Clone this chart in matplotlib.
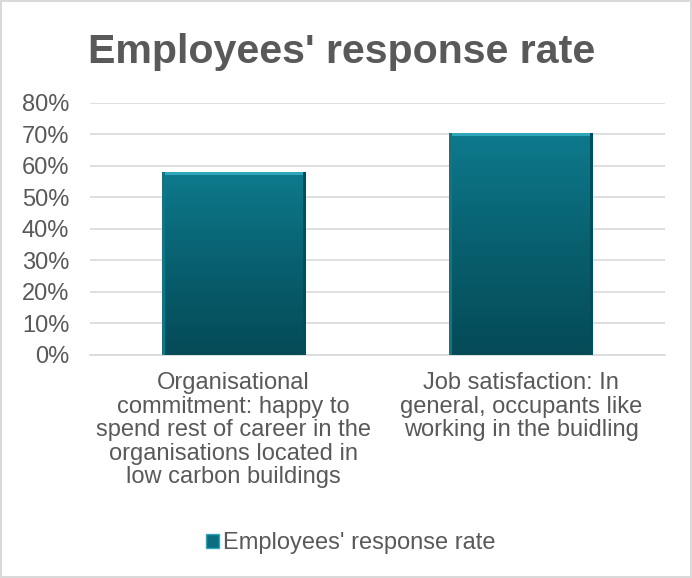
import numpy as np
import matplotlib.pyplot as plt
from matplotlib.colors import LinearSegmentedColormap
from matplotlib.patches import Rectangle

plt.rcParams['font.family'] = ['Liberation Sans', 'DejaVu Sans']

categories = ['Organisational\ncommitment: happy to\nspend rest of career in the\norganisations located in\nlow carbon buildings',
              'Job satisfaction: In\ngeneral, occupants like\nworking in the buidling']
rates = [0.58, 0.705]
series_name = "Employees' response rate"
yticks = [0.0, 0.1, 0.2, 0.3, 0.4, 0.5, 0.6, 0.7, 0.8]

grey = '#595959'
fig = plt.figure(figsize=(6.92, 5.78), dpi=100)
fig.patch.set_edgecolor('#d9d9d9')
fig.patch.set_linewidth(1.5)
ax = fig.add_axes([0.13, 0.386, 0.831, 0.436])

x = np.arange(len(categories))
bars = ax.bar(x, rates, width=0.5, color='#0b6e80', zorder=2, label=series_name)

# vertical shading inside each bar, lighter at the top, with a bevelled rim
cmap = LinearSegmentedColormap.from_list('teal', ['#054a57', '#08606f', '#0e7a8c'])
grad = np.linspace(0, 1, 256).reshape(-1, 1)
for b in bars:
    x0, w, h = b.get_x(), b.get_width(), b.get_height()
    im = ax.imshow(grad, cmap=cmap, aspect='auto', origin='lower',
                   extent=(x0, x0 + w, 0, h), zorder=3)
    im.set_clip_path(b)
    ax.add_patch(Rectangle((x0, h - 0.01), w, 0.01, color='#2fa6ba', zorder=4, lw=0))
    ax.add_patch(Rectangle((x0, 0), w * 0.02, h, color='#0c7788', zorder=4, lw=0))
    ax.add_patch(Rectangle((x0 + w * 0.98, 0), w * 0.02, h, color='#054b58', zorder=4, lw=0))

ax.set_xlim(-0.5, 1.5)
ax.set_ylim(0, 0.8)
ax.set_yticks(yticks)
ax.set_yticklabels([f'{int(round(t * 100))}%' for t in yticks])
ax.set_xticks(x)
ax.set_xticklabels(categories, linespacing=1.09, va='top')
ax.tick_params(axis='both', length=0, labelsize=17, labelcolor=grey)
ax.tick_params(axis='y', pad=15)
ax.tick_params(axis='x', pad=12.5)
ax.grid(axis='y', color='#d9d9d9', lw=1.2, zorder=0)
for s in ['top', 'right', 'left']:
    ax.spines[s].set_visible(False)
ax.spines['bottom'].set_color('#d9d9d9')
ax.spines['bottom'].set_linewidth(1.2)

fig.text(0.493, 0.91, series_name, ha='center', va='center', fontsize=29.6,
         fontweight='bold', color=grey)

fig.legend(handles=[Rectangle((0, 0), 1, 1, facecolor='#0b6e80', edgecolor='#2fa6ba')],
           labels=[series_name], loc='center', bbox_to_anchor=(0.507, 0.06),
           frameon=False, fontsize=17, handlelength=0.55, handleheight=0.55,
           handletextpad=0.2, labelcolor=grey)

fig.savefig('out.png', dpi=100)
